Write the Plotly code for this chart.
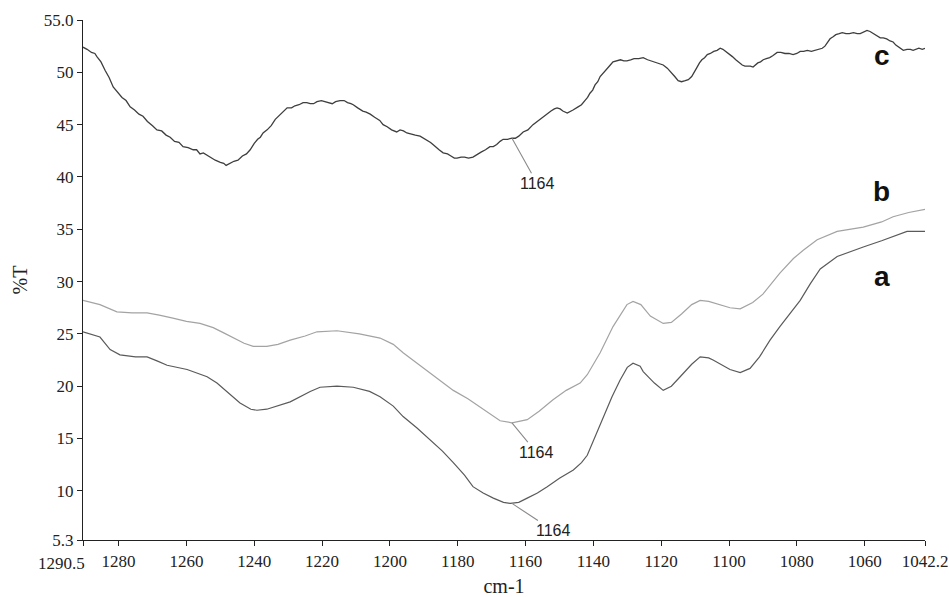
import plotly.graph_objects as go

# ---- data ----
c_pairs = [
    (1290.5, 52.4), (1289.3, 52.2), (1288, 51.9), (1287, 51.8), (1286.4, 51.5), (1285.2, 51.0), (1284, 50.2),
    (1282.8, 49.5), (1281.6, 48.6), (1280.3, 48.1), (1279, 47.6), (1277.8, 47.3), (1276.6, 46.7), (1275.3, 46.4),
    (1274, 46.0), (1272.8, 45.8), (1271.5, 45.3), (1270, 44.9), (1268.7, 44.5), (1267.3, 44.4), (1266, 44.0),
    (1264.8, 43.8), (1263.5, 43.4), (1262.2, 43.3), (1261, 42.9), (1259.5, 42.8), (1258, 42.6), (1257, 42.6),
    (1256, 42.2), (1255, 42.3), (1254, 42.1), (1252.7, 41.8), (1251.5, 41.6), (1250, 41.4), (1249, 41.3),
    (1248.3, 41.1), (1247.2, 41.3), (1246, 41.5), (1244.8, 41.6), (1243.5, 42.0), (1242.3, 42.2), (1241.2, 42.6),
    (1240, 43.2), (1239, 43.6), (1238.2, 43.8), (1237.4, 44.2), (1236.2, 44.5), (1235, 44.9), (1233.8, 45.5),
    (1232.5, 45.9), (1231.3, 46.2), (1230.3, 46.6), (1229, 46.6), (1228, 46.8), (1226.8, 46.9), (1225.6, 47.1),
    (1224.5, 47.1), (1223.5, 47.0), (1222.5, 47.0), (1221.5, 47.2), (1220.2, 47.3), (1219, 47.2), (1218, 47.1),
    (1217, 47.0), (1216, 47.2), (1214.7, 47.3), (1213.5, 47.3), (1212.5, 47.1), (1211.5, 47.0), (1210.8, 46.9),
    (1209.5, 46.6), (1208, 46.3), (1207, 46.2), (1205.8, 46.0), (1204.5, 45.7), (1203, 45.4), (1202, 45.0),
    (1200.8, 44.8), (1199.5, 44.5), (1198, 44.3), (1197, 44.5), (1196, 44.4), (1195, 44.2), (1194, 44.1),
    (1192.5, 44.0), (1191.1, 43.9), (1190, 43.7), (1189, 43.5), (1188, 43.3), (1187.3, 43.1), (1186.4, 42.8),
    (1185.5, 42.6), (1184.3, 42.3), (1183, 42.2), (1182, 42.0), (1181, 41.8), (1180.2, 41.8), (1179, 41.9),
    (1178, 41.9), (1176.8, 41.8), (1175.5, 41.9), (1174.2, 42.2), (1173, 42.4), (1171.8, 42.6), (1170.5, 42.9),
    (1169.5, 42.9), (1168.5, 43.1), (1167.5, 43.4), (1166.6, 43.6), (1165.3, 43.6), (1164, 43.7), (1163, 43.7),
    (1162, 43.9), (1160.7, 44.3), (1159.3, 44.5), (1157.8, 45.0), (1156.6, 45.3), (1155.5, 45.6), (1154.5, 45.8),
    (1153.6, 46.1), (1152.5, 46.3), (1151.5, 46.5), (1150.7, 46.6), (1149.8, 46.5), (1149, 46.3), (1147.7, 46.1),
    (1146.8, 46.3), (1146, 46.4), (1144.5, 46.7), (1143.5, 46.9), (1142.5, 47.3), (1141.7, 47.6), (1141, 48.0),
    (1140.2, 48.3), (1139.5, 48.8), (1138.7, 49.1), (1138, 49.6), (1137, 50.0), (1136, 50.4), (1135, 50.7),
    (1134.2, 51.0), (1133, 51.1), (1132, 51.2), (1131, 51.1), (1130.1, 51.1), (1129, 51.2), (1128, 51.3),
    (1126.6, 51.3), (1125.3, 51.4), (1124, 51.2), (1123, 51.1), (1122, 51.0), (1121, 50.9), (1120.2, 50.8),
    (1119.4, 50.7), (1118.2, 50.4), (1117, 50.0), (1116, 49.6), (1115, 49.2), (1114, 49.1), (1112.9, 49.2),
    (1112, 49.3), (1111, 49.6), (1110.2, 50.0), (1109.4, 50.5), (1108.7, 50.9), (1108, 51.2), (1107.2, 51.4),
    (1106.4, 51.7), (1105.5, 51.8), (1104.5, 52.0), (1103.5, 52.1), (1102.6, 52.3), (1101.8, 52.2), (1101, 52.0),
    (1100.3, 51.9), (1099.7, 51.7), (1099, 51.5), (1098, 51.2), (1097, 50.9), (1096.1, 50.7), (1095.3, 50.6),
    (1094.5, 50.6), (1093.7, 50.6), (1092.9, 50.5), (1092.2, 50.7), (1091.5, 50.9), (1090.7, 51.0), (1089.9, 51.2),
    (1089, 51.3), (1088, 51.4), (1087, 51.6), (1085.8, 51.9), (1084.7, 51.9), (1083.5, 51.8), (1082.3, 51.8),
    (1081.1, 51.7), (1080, 51.8), (1079, 52.0), (1078, 52.0), (1076.9, 52.1), (1075.7, 52.0), (1074.5, 52.1),
    (1073.5, 52.2), (1072.5, 52.3), (1071.7, 52.5), (1071, 52.8), (1070.2, 53.2), (1069.3, 53.4), (1068.5, 53.6),
    (1067.5, 53.7), (1066.6, 53.8), (1065.5, 53.7), (1064.5, 53.7), (1063.3, 53.8), (1062.2, 53.7), (1061.3, 53.7),
    (1060.5, 53.8), (1059.9, 53.9), (1059.3, 54.0), (1058.4, 53.9), (1057.5, 53.7), (1056.5, 53.5), (1055.4, 53.3),
    (1054.5, 53.3), (1053.5, 53.2), (1052.5, 53.0), (1051.6, 52.9), (1050.8, 52.6), (1050, 52.4), (1049.3, 52.2),
    (1048.6, 52.1), (1047.5, 52.2), (1046.5, 52.2), (1045.7, 52.1), (1044.8, 52.2), (1044, 52.3), (1043, 52.2),
    (1042.2, 52.3),
]
x_c = [p[0] for p in c_pairs]
y_c = [p[1] for p in c_pairs]

x_b = [1290.5, 1285.5, 1280.5, 1276, 1271.6, 1268, 1264, 1260, 1256, 1252.1, 1249, 1246.2, 1243, 1240.3, 1236.3,
       1233, 1229.4, 1225, 1221.5, 1215.6, 1209, 1202.9, 1199, 1196.1, 1191.1, 1186, 1181.3, 1177, 1173.4, 1170,
       1167.5, 1164, 1159.5, 1156, 1151.9, 1148, 1143.9, 1141.8, 1138, 1134.2, 1130.1, 1128.3, 1126, 1123.2, 1119.4,
       1117, 1114, 1111, 1108.5, 1106, 1103, 1099.7, 1096.7, 1093, 1090, 1085, 1081, 1078.1, 1074, 1068.1, 1060.4,
       1055, 1051.6, 1047, 1042.2]
y_b = [28.2, 27.8, 27.1, 27.0, 27.0, 26.8, 26.5, 26.2, 26.0, 25.6, 25.1, 24.6, 24.1, 23.8, 23.8,
       24.0, 24.4, 24.8, 25.2, 25.3, 25.0, 24.6, 24.0, 23.2, 22.0, 20.8, 19.6, 18.8, 18.0, 17.2,
       16.7, 16.5, 16.8, 17.6, 18.7, 19.6, 20.3, 21.1, 23.2, 25.7, 27.8, 28.1, 27.8, 26.7, 26.0,
       26.1, 26.9, 27.8, 28.2, 28.1, 27.8, 27.5, 27.4, 28.0, 28.8, 30.8, 32.2, 33.0, 34.0, 34.8, 35.2,
       35.7, 36.2, 36.6, 36.9]

x_a = [1290.5, 1285.5, 1282.5, 1279.6, 1275, 1271.6, 1268.5, 1265.7, 1259.8, 1253.9, 1251, 1248, 1244.2, 1241,
       1239.2, 1236.3, 1233, 1229.4, 1223.5, 1220.6, 1215.6, 1210.8, 1206, 1202.9, 1199, 1196.1, 1192, 1188.1,
       1184.5, 1181.3, 1178, 1175.5, 1172.5, 1169.5, 1166.5, 1164.5, 1162, 1159.5, 1156.5, 1153.6, 1150, 1145.9,
       1143.5, 1141.8, 1139.5, 1137.1, 1134.5, 1132.1, 1130, 1128.3, 1126.2, 1125.3, 1122, 1119.4, 1117, 1114.4,
       1111, 1108.5, 1106, 1104.7, 1102, 1099.7, 1096.7, 1093.8, 1091, 1087.9, 1085, 1082, 1079, 1076, 1073.1,
       1068.1, 1064, 1060.4, 1055, 1051.6, 1047.5, 1042.2]
y_a = [25.2, 24.7, 23.5, 23.0, 22.8, 22.8, 22.4, 22.0, 21.6, 20.9, 20.3, 19.5, 18.4, 17.8,
       17.7, 17.8, 18.1, 18.5, 19.5, 19.9, 20.0, 19.9, 19.5, 19.0, 18.1, 17.1, 16.0, 14.9,
       13.8, 12.7, 11.5, 10.4, 9.8, 9.3, 8.9, 8.8, 8.9, 9.3, 9.8, 10.4, 11.2, 12.0,
       12.7, 13.4, 15.2, 17.1, 19.0, 20.6, 21.8, 22.2, 21.9, 21.4, 20.3, 19.6, 20.0, 20.9,
       22.1, 22.8, 22.7, 22.5, 22.0, 21.6, 21.3, 21.7, 22.8, 24.4, 25.7, 27.0, 28.2, 29.8, 31.2,
       32.4, 32.9, 33.3, 33.9, 34.3, 34.8, 34.8]

x_ticks = [1290.5, 1280, 1260, 1240, 1220, 1200, 1180, 1160, 1140, 1120, 1100, 1080, 1060, 1042.2]
# the first label (1290.5) is drawn separately, shifted left as in the reference
x_tick_text = ["", "1280", "1260", "1240", "1220", "1200", "1180", "1160", "1140", "1120",
               "1100", "1080", "1060", "1042.2"]
x_first_label = "1290.5"
y_ticks = [5.3, 10, 15, 20, 25, 30, 35, 40, 45, 50, 55]
y_tick_text = ["5.3", "10", "15", "20", "25", "30", "35", "40", "45", "50", "55.0"]

series_labels = ["a", "b", "c"]
label_x = [1054.9, 1054.9, 1054.9]
label_y = [30.5, 38.6, 51.6]

peak_x = 1164
peak_y = [8.8, 16.5, 43.7]          # a, b, c at 1164
peak_text_x = [1151.9, 1156.9, 1156.6]
peak_text_y = [6.2, 13.7, 39.4]
peak_label = "1164"

serif = "Liberation Serif, Times New Roman, serif"
sans = "Liberation Sans, Arial, sans-serif"
tick_font = dict(family=serif, size=17, color="#222222")

fig = go.Figure()
fig.add_trace(go.Scatter(x=x_c, y=y_c, mode="lines", line=dict(color="#3e3e3e", width=1.3), name="c"))
fig.add_trace(go.Scatter(x=x_b, y=y_b, mode="lines", line=dict(color="#a3a3a3", width=1.2), name="b"))
fig.add_trace(go.Scatter(x=x_a, y=y_a, mode="lines", line=dict(color="#5a5a5a", width=1.2), name="a"))

annotations = []
for lab, lx, ly in zip(series_labels, label_x, label_y):
    annotations.append(dict(x=lx, y=ly, xref="x", yref="y", text="<b>" + lab + "</b>", showarrow=False,
                            font=dict(family=sans, size=28, color="#111111"),
                            xanchor="center", yanchor="middle"))
for py, tx, ty in zip(peak_y, peak_text_x, peak_text_y):
    annotations.append(dict(x=peak_x, y=py, xref="x", yref="y", ax=tx, ay=ty, axref="x", ayref="y",
                            text=peak_label, showarrow=True, arrowhead=0, arrowwidth=1.1,
                            arrowcolor="#8a8a8a", standoff=0,
                            font=dict(family=sans, size=16, color="#222222")))
annotations.append(dict(x=x_ticks[0], y=0, xref="x", yref="paper", text=x_first_label, showarrow=False,
                        xanchor="right", yanchor="top", xshift=3, yshift=-13, font=tick_font,
                        borderpad=0))

fig.update_layout(
    width=949, height=597,
    margin=dict(l=83, r=24, t=20, b=57, autoexpand=False),
    paper_bgcolor="white", plot_bgcolor="white",
    showlegend=False,
    font=dict(family=serif, size=17, color="#222222"),
    annotations=annotations,
)
fig.update_xaxes(
    range=[1290.5, 1042.2], tickmode="array", tickvals=x_ticks, ticktext=x_tick_text, tickangle=0,
    tickfont=tick_font, automargin=False, ticklabeloverflow="allow",
    showline=True, linecolor="#222222", linewidth=1.3, ticks="outside", ticklen=5, tickcolor="#222222",
    showgrid=False, zeroline=False,
    title=dict(text="cm-1", font=dict(family=serif, size=20), standoff=10),
)
fig.update_yaxes(
    range=[5.3, 55], tickmode="array", tickvals=y_ticks, ticktext=y_tick_text,
    tickfont=tick_font, automargin=False, ticklabeloverflow="allow",
    showline=True, linecolor="#222222", linewidth=1.3, ticks="outside", ticklen=5, tickcolor="#222222",
    showgrid=False, zeroline=False,
    title=dict(text="%T", font=dict(family=serif, size=20), standoff=10),
)

fig.write_html("out.html", config={"displayModeBar": False},
               post_script="document.body.style.margin='0';document.body.style.overflow='hidden';")
